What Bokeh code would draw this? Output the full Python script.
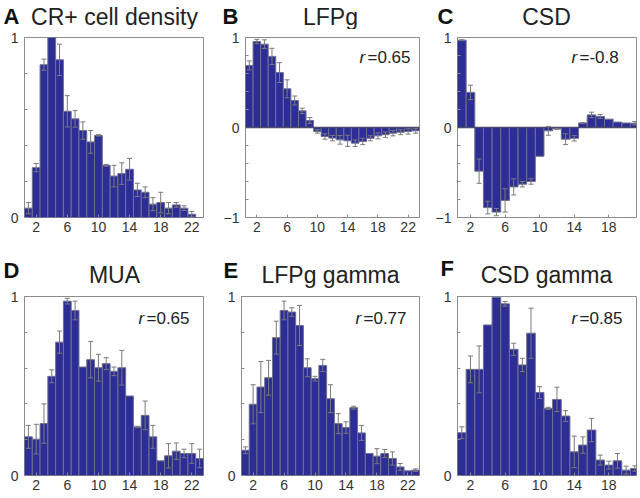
from bokeh.plotting import figure
from bokeh.models import ColumnDataSource, Whisker, TeeHead, Label, FixedTicker, Span, Range1d
from bokeh.layouts import row, column
from bokeh.embed import file_html
from bokeh.resources import INLINE

# ---------------- data ----------------
a_vals = [0.052, 0.277, 0.849, 1.0, 0.876, 0.59, 0.548, 0.483, 0.42, 0.456, 0.29, 0.23,
          0.244, 0.268, 0.153, 0.14, 0.074, 0.083, 0.052, 0.07, 0.052, 0.018, 0.0]
a_errs = [0.031, 0.023, 0.031, 0.0, 0.087, 0.087, 0.046, 0.048, 0.063, 0.004, 0.005, 0.06,
          0.06, 0.06, 0.037, 0.03, 0.036, 0.057, 0.031, 0.013, 0.013, 0.015, 0.0]

b_vals = [0.69, 0.956, 0.926, 0.79, 0.61, 0.43, 0.30, 0.185, 0.078, -0.044, -0.1, -0.118,
          -0.137, -0.148, -0.174, -0.155, -0.12, -0.093, -0.08, -0.063, -0.052, -0.044, -0.037]
b_errs = [0.05, 0.024, 0.048, 0.09, 0.11, 0.10, 0.05, 0.03, 0.032, 0.019, 0.03, 0.03,
          0.048, 0.062, 0.036, 0.035, 0.028, 0.033, 0.03, 0.03, 0.028, 0.03, 0.026]

c_vals = [0.97, 0.39, -0.485, -0.89, -0.94, -0.81, -0.66, -0.63, -0.6, -0.32, -0.037,
          -0.015, -0.13, -0.12, 0.05, 0.14, 0.123, 0.093, 0.06, 0.05, 0.048]
c_errs = [0.005, 0.08, 0.135, 0.07, 0.04, 0.13, 0.09, 0.03, 0.03, 0.0, 0.049,
          0.005, 0.06, 0.03, 0.006, 0.03, 0.022, 0.0, 0.0, 0.0, 0.019]

d_vals = [0.216, 0.203, 0.29, 0.554, 0.745, 0.974, 0.922, 0.606, 0.647, 0.602, 0.625, 0.582,
          0.602, 0.444, 0.271, 0.336, 0.216, 0.082, 0.11, 0.136, 0.123, 0.123, 0.095]
d_errs = [0.064, 0.083, 0.11, 0.036, 0.062, 0.016, 0.052, 0.0, 0.102, 0.075, 0.033, 0.024,
          0.097, 0.0, 0.004, 0.08, 0.064, 0.0, 0.068, 0.046, 0.024, 0.055, 0.052]

e_vals = [0.141, 0.398, 0.494, 0.546, 0.77, 0.922, 0.913, 0.838, 0.602, 0.541, 0.615, 0.429,
          0.29, 0.268, 0.379, 0.238, 0.123, 0.108, 0.123, 0.095, 0.048, 0.026, 0.03]
e_errs = [0.019, 0.109, 0.143, 0.097, 0.092, 0.052, 0.024, 0.112, 0.05, 0.013, 0.034, 0.078,
          0.056, 0.032, 0.008, 0.042, 0.0, 0.042, 0.022, 0.037, 0.019, 0.0, 0.007]

f_vals = [0.239, 0.593, 0.593, 0.841, 0.996, 0.959, 0.705, 0.618, 0.795, 0.463, 0.375,
          0.425, 0.332, 0.132, 0.17, 0.254, 0.086, 0.058, 0.082, 0.03, 0.039]
f_errs = [0.033, 0.075, 0.131, 0.0, 0.0, 0.013, 0.034, 0.037, 0.14, 0.033, 0.006,
          0.068, 0.03, 0.088, 0.046, 0.065, 0.028, 0.022, 0.041, 0.022, 0.015]

x_ticks_long = [2, 6, 10, 14, 18, 22]
x_ticks_short = [2, 6, 10, 14, 18]
y_ticks_pos = [0, 1]
y_ticks_sym = [-1, 0, 1]

titles = ["CR+ cell density", "LFPg", "CSD", "MUA", "LFPg gamma", "CSD gamma"]
letters = ["A", "B", "C", "D", "E", "F"]
r_texts = [None, "=0.65", "=-0.8", "=0.65", "=0.77", "=0.85"]

# ---------------- styling ----------------
FONT = "Liberation Sans"
BAR = "#2d2d96"
EDGE = "#6f6f92"
ERR = "#7a7a7a"
FRAME = "#8c8c8c"


def make_panel(vals, errs, x_end, y_lo, xticks, yticks, rtext, w, h, left, right, top, bottom, r_dy):
    n = len(vals)
    xs = list(range(1, n + 1))
    fh = h - top - bottom
    p = figure(width=w, height=h, min_border_left=left, min_border_right=right,
               min_border_top=top, min_border_bottom=bottom, title=None,
               x_range=Range1d(0.5, x_end), y_range=Range1d(y_lo, 1.0),
               toolbar_location=None, output_backend="svg")
    p.xgrid.visible = False
    p.ygrid.visible = False
    p.outline_line_color = FRAME
    p.outline_line_width = 1
    p.background_fill_color = "white"
    p.border_fill_color = "white"

    src = ColumnDataSource(dict(x=xs, top=vals))
    p.vbar(x="x", top="top", bottom=0, width=1.0, source=src,
           fill_color=BAR, line_color=EDGE, line_width=1)

    if y_lo < 0:
        p.add_layout(Span(location=0, dimension="width", line_color="#4a4a6a", line_width=1.5))

    ex, eu, el = [], [], []
    for x, v, e in zip(xs, vals, errs):
        if e > 0:
            ex.append(x)
            eu.append(v + e)
            el.append(v - e)
    esrc = ColumnDataSource(dict(x=ex, upper=eu, lower=el))
    wk = Whisker(source=esrc, base="x", upper="upper", lower="lower",
                 line_color=ERR, line_width=1, level="annotation",
                 upper_head=TeeHead(size=5, line_color=ERR, line_width=1),
                 lower_head=TeeHead(size=5, line_color=ERR, line_width=1))
    p.add_layout(wk)

    for ax in (p.xaxis[0], p.yaxis[0]):
        ax.axis_line_color = None
        ax.major_tick_in = 3
        ax.major_tick_out = 0
        ax.major_tick_line_color = FRAME
        ax.minor_tick_line_color = FRAME
        ax.major_label_text_font = FONT
        ax.major_label_text_font_size = "14px"
        ax.major_label_text_color = "#333333"
    p.xaxis[0].ticker = FixedTicker(ticks=xticks, minor_ticks=[])
    p.xaxis[0].major_label_standoff = 4
    p.yaxis[0].ticker = FixedTicker(ticks=yticks,
                                    minor_ticks=[round(y_lo + 0.2 * k, 2) for k in range(int(round((1 - y_lo) / 0.2)) + 1)])
    p.yaxis[0].minor_tick_in = 3
    p.yaxis[0].minor_tick_out = 0
    p.yaxis[0].major_label_standoff = 6

    if rtext:
        p.add_layout(Label(x=114, y=fh - r_dy, x_units="screen", y_units="screen",
                           text="r", text_font=FONT, text_font_size="17px",
                           text_font_style="italic", text_color="#222222",
                           text_baseline="middle", text_align="left"))
        p.add_layout(Label(x=122, y=fh - r_dy, x_units="screen", y_units="screen",
                           text=rtext, text_font=FONT, text_font_size="17px",
                           text_color="#222222", text_baseline="middle", text_align="left"))
    return p


def make_header(h, items):
    # items: (letter, letter_x, letter_y, title, title_cx, title_y)  -- y = text centre, from bottom
    p = figure(width=640, height=h, x_range=Range1d(0, 640), y_range=Range1d(0, h),
               min_border=0, min_border_left=0, min_border_right=0, min_border_top=0,
               min_border_bottom=0, title=None, x_axis_location=None, y_axis_location=None,
               toolbar_location=None, output_backend="svg")
    p.grid.visible = False
    p.outline_line_color = None
    p.border_fill_color = "white"
    p.background_fill_color = "white"
    for letter, lx, ly, title, tx, ty in items:
        p.add_layout(Label(x=lx, y=ly, x_units="screen", y_units="screen", text=letter,
                           text_font=FONT, text_font_size="22px", text_font_style="bold",
                           text_color="#111111", text_baseline="middle", text_align="left"))
        p.add_layout(Label(x=tx, y=ty, x_units="screen", y_units="screen", text=title,
                           text_font=FONT, text_font_size="23px", text_color="#222222",
                           text_baseline="middle", text_align="center"))
    return p


head1 = make_header(29, [(letters[0], 3, 13, titles[0], 114, 13),
                         (letters[1], 222, 13, titles[1], 330, 12.5),
                         (letters[2], 437, 13, titles[2], 546, 12.5)])
head2 = make_header(38, [(letters[3], 3, 18.5, titles[3], 114, 14),
                         (letters[4], 223, 18, titles[4], 330, 14),
                         (letters[5], 440, 20, titles[5], 546, 14)])

pa = make_panel(a_vals, a_errs, 23.5, 0.0, x_ticks_long, y_ticks_pos, r_texts[0], 220, 221, 24, 17, 8, 33, 20)
pb = make_panel(b_vals, b_errs, 23.5, -1.0, x_ticks_long, y_ticks_sym, r_texts[1], 212, 221, 21, 13, 8, 33, 20)
pc = make_panel(c_vals, c_errs, 21.2, -1.0, x_ticks_short, y_ticks_sym, r_texts[2], 208, 221, 25, 4, 8, 33, 20)
pd = make_panel(d_vals, d_errs, 23.5, 0.0, x_ticks_long, y_ticks_pos, r_texts[3], 220, 210, 24, 17, 8, 23, 21.5)
pe = make_panel(e_vals, e_errs, 23.5, 0.0, x_ticks_long, y_ticks_pos, r_texts[4], 212, 210, 21, 13, 8, 23, 21.5)
pf = make_panel(f_vals, f_errs, 21.2, 0.0, x_ticks_short, y_ticks_pos, r_texts[5], 208, 210, 25, 4, 8, 23, 21.5)

layout = column(head1, row(pa, pb, pc), head2, row(pd, pe, pf))

with open("out.html", "w") as fh_out:
    fh_out.write(file_html(layout, INLINE))
